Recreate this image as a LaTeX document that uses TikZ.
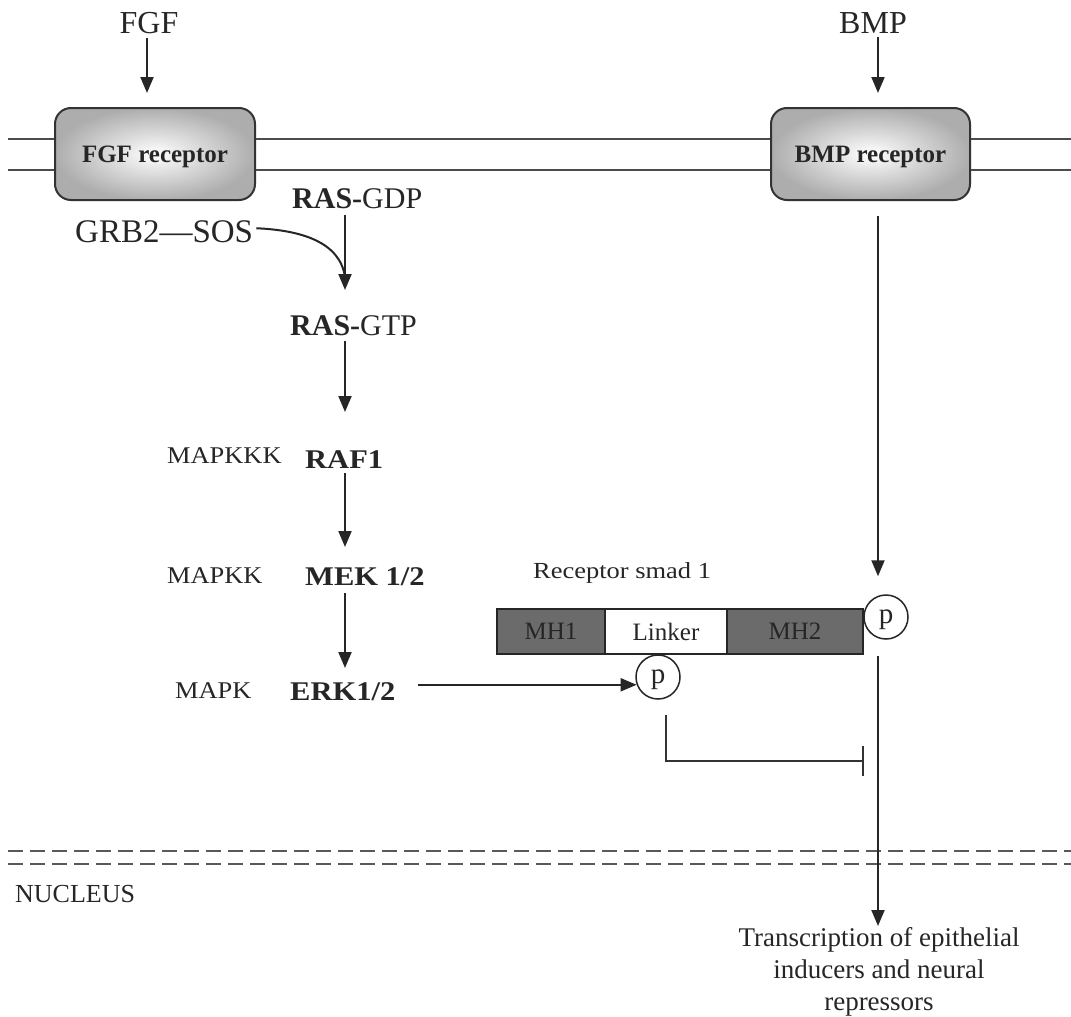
\documentclass[tikz,border=0pt]{standalone}
\usepackage{fontspec}
\setmainfont{Liberation Serif}
\usepackage{graphicx}
\usetikzlibrary{arrows.meta,calc}
\newcommand{\mylab}[1]{\scalebox{1.1}[1]{\fontsize{24}{29}\selectfont #1}}
\newcommand{\mybold}[1]{\scalebox{1.13}[1]{\fontsize{27}{32}\selectfont\bfseries #1}}
\newcommand{\lowerit}[1]{\raisebox{-3pt}[\height][\depth]{#1}}
\tikzset{
 arr/.style={line width=2pt, draw=black!85, -{Triangle[length=16pt,width=13pt]}},
 inh/.style={line width=2pt, draw=black!80, -{Bar[width=30pt,line width=2pt]}},
 txt/.style={inner sep=0pt, anchor=base west, text=black!85},
 recbox/.style={draw=black!80, line width=2pt, rounded corners=16pt, minimum width=200pt, minimum height=92pt, inner color=white, outer color=black!32, text=black!85, font=\fontsize{25}{30}\selectfont\bfseries},
 memb/.style={line width=2pt, draw=black!70},
 nucl/.style={line width=2.8pt, draw=black!65, dash pattern=on 15pt off 7pt},
 dom/.style={draw=black!85, line width=1.5pt, minimum height=45pt, inner sep=0pt, text=black!85, font=\fontsize{25}{30}\selectfont},
 pcirc/.style={circle, draw=black!85, line width=1.5pt, fill=white, minimum size=44pt, inner sep=0pt, text=black!85, font=\fontsize{29}{35}\selectfont},
}
\begin{document}
\begin{tikzpicture}[x=1pt,y=-1pt]
\useasboundingbox[fill=white] (0,0) rectangle (1071,1017);
% ligands
\node[txt, anchor=base] (fgf) at (149,33) {\fontsize{32}{38}\selectfont FGF};
\node[txt, anchor=base] (bmp) at (873,33) {\fontsize{32}{38}\selectfont BMP};
% receptors
\node[recbox] (fgfr) at (155,154) {\lowerit{FGF receptor}};
\node[recbox, minimum width=199pt] (bmpr) at (870.5,154) {\lowerit{BMP receptor}};
% membrane
\coordinate (m1) at (8,139); \coordinate (m2) at (8,170);
\coordinate (mr1) at (1071,139); \coordinate (mr2) at (1071,170);
\draw[memb] (m1) -- (m1 -| fgfr.west) (fgfr.east |- m1) -- (bmpr.west |- m1) (bmpr.east |- m1) -- (mr1);
\draw[memb] (m2) -- (m2 -| fgfr.west) (fgfr.east |- m2) -- (bmpr.west |- m2) (bmpr.east |- m2) -- (mr2);
% x positions of arrows
\coordinate (xf) at (147,0); \coordinate (xb) at (878,0); \coordinate (xr) at (345,0);
\draw[arr] ($(fgf.south -| xf)+(0,4)$) -- ($(fgfr.north -| xf)+(0,-14)$);
\draw[arr] ($(bmp.south -| xb)+(0,4)$) -- ($(bmpr.north -| xb)+(0,-14)$);
% RAS / MAPK cascade
\node[txt] (rasgdp) at (292,208) {\fontsize{30}{36}\selectfont\textbf{RAS-}GDP};
\node[txt] (grb) at (75,242) {\fontsize{33}{40}\selectfont GRB2—SOS};
\node[txt] (rasgtp) at (290,335) {\fontsize{30}{36}\selectfont\textbf{RAS-}GTP};
\node[txt] (mapkkk) at (167,463) {\mylab{MAPKKK}};
\node[txt] (raf) at (305,468) {\mybold{RAF1}};
\node[txt] (mapkk) at (167,583) {\mylab{MAPKK}};
\node[txt] (mek) at (305,585) {\mybold{MEK 1/2}};
\node[txt] (mapk) at (175,698) {\mylab{MAPK}};
\node[txt] (erk) at (290,700) {\mybold{ERK1/2}};
\draw[arr] ($(rasgdp.base -| xr)+(0,7)$) -- ($(rasgtp.base -| xr)+(0,-45)$);
\draw[line width=2pt, draw=black!85] ($(grb.east)+(3,-3)$) .. controls +(45,2) and +(-5,-35) .. ($(rasgtp.base -| xr)+(0,-58)$);
\draw[arr] ($(rasgtp.base -| xr)+(0,6)$) -- ($(raf.base -| xr)+(0,-56)$);
\draw[arr] ($(raf.base -| xr)+(0,5)$) -- ($(mek.base -| xr)+(0,-38)$);
\draw[arr] ($(mek.base -| xr)+(0,8)$) -- ($(erk.base -| xr)+(0,-32)$);
% smad
\node[txt] (rsmad) at (533,578) {\scalebox{1.15}[1]{\fontsize{23}{28}\selectfont Receptor smad 1}};
\node[dom, fill=black!58, minimum width=108pt] (mh1) at (551,631.5) {MH1};
\node[dom, fill=white, minimum width=122pt] (lnk) at (666,631.5) {Linker};
\node[dom, fill=black!58, minimum width=136pt] (mh2) at (795,631.5) {MH2};
\node[pcirc] (pmh) at (886,617) {\lowerit{p}};
\node[pcirc] (plink) at (658,677) {\lowerit{p}};
\draw[arr] ($(plink.200 -| erk.east)+(22,0)$) -- (plink.200);
\draw[arr] ($(bmpr.south -| xb)+(0,15)$) -- ($(pmh.north -| xb)+(0,-18)$);
\draw[inh] ($(plink.south)+(8,15)$) |- ($(mh2.south east)+(0,106)$);
% nucleus
\coordinate (n1) at (8,851); \coordinate (n1r) at (1071,851);
\coordinate (n2) at (8,864); \coordinate (n2r) at (1071,864);
\draw[nucl] (n1) -- (n1r);
\draw[nucl] (n2) -- (n2r);
\node[txt] (nuc) at (15,902) {\fontsize{26}{31}\selectfont NUCLEUS};
\node[inner sep=0pt, anchor=north, align=center, text=black!85, font=\fontsize{27}{32}\selectfont] (trans) at (879,927) {Transcription of epithelial\\inducers and neural\\repressors};
\draw[arr] ($(mh2.south -| xb)+(0,1)$) -- ($(trans.north -| xb)+(0,-1)$);
\end{tikzpicture}
\end{document}
